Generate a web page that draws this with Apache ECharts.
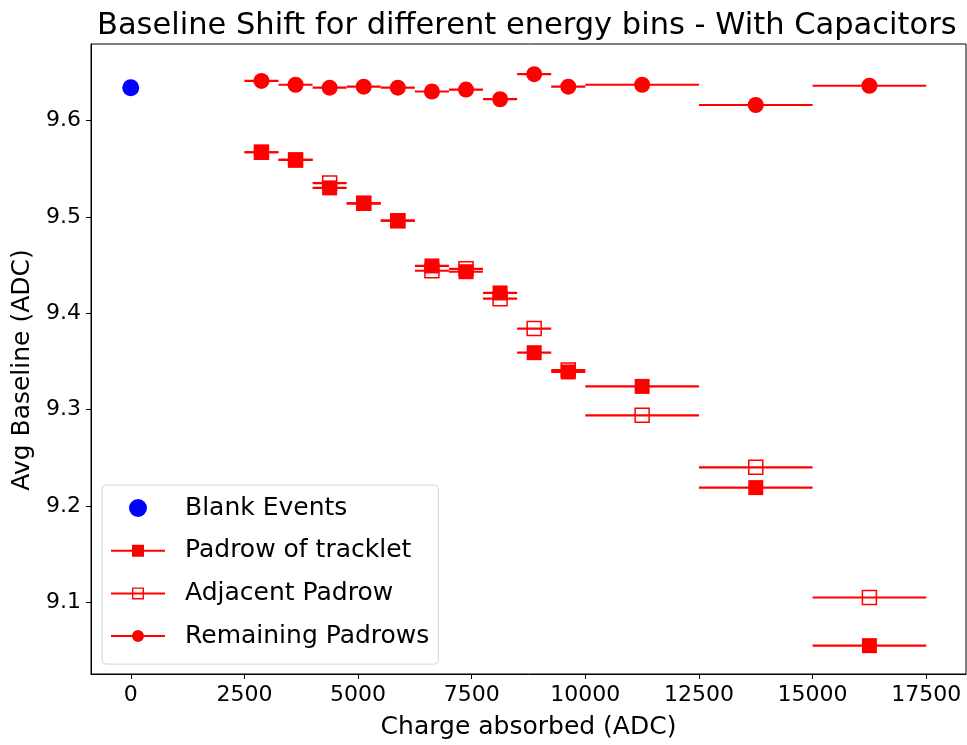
<!DOCTYPE html>
<html>
<head>
<meta charset="utf-8">
<script src="https://cdn.jsdelivr.net/npm/echarts@6/dist/echarts.min.js"></script>
<style>
  html, body { margin: 0; padding: 0; background: #fff; }
  #chart { width: 967px; height: 745px; }
</style>
</head>
<body>
<div id="chart"></div>
<script>
// Energy bins (charge absorbed, ADC): lower edge, upper edge, centre
const binLow    = [2500, 3250, 4000, 4750, 5500, 6250, 7000, 7750, 8500, 9250, 10000, 12500, 15000];
const binHigh   = [3250, 4000, 4750, 5500, 6250, 7000, 7750, 8500, 9250, 10000, 12500, 15000, 17500];
const binCenter = [2875, 3625, 4375, 5125, 5875, 6625, 7375, 8125, 8875, 9625, 11250, 13750, 16250];

// Average baseline (ADC) per bin
const padrowTracklet = [9.567, 9.559, 9.530, 9.514, 9.496, 9.449, 9.443, 9.421, 9.359, 9.339, 9.324, 9.219, 9.055];
const padrowAdjacent = [9.567, 9.559, 9.535, 9.514, 9.496, 9.444, 9.446, 9.415, 9.384, 9.341, 9.294, 9.240, 9.105];
const padrowRemaining = [9.641, 9.637, 9.634, 9.635, 9.634, 9.630, 9.632, 9.622, 9.648, 9.635, 9.637, 9.616, 9.636];

// Blank events (no charge)
const blankX = [0];
const blankY = [9.634];

// Tick positions
const xTicks = [0, 2500, 5000, 7500, 10000, 12500, 15000, 17500];
const yTicks = [9.1, 9.2, 9.3, 9.4, 9.5, 9.6];

const FONT = 'DejaVu Sans';
const RED = '#ff0000';

function errorRows(values) {
  return binCenter.map((c, i) => [c, binLow[i], binHigh[i], values[i]]);
}
function pointRows(values) {
  return binCenter.map((c, i) => [c, values[i]]);
}

// horizontal error bar spanning the bin
function renderErrorBar(params, api) {
  const y = api.value(3);
  const p0 = api.coord([api.value(1), y]);
  const p1 = api.coord([api.value(2), y]);
  return {
    type: 'line',
    shape: { x1: p0[0], y1: p0[1], x2: p1[0], y2: p1[1] },
    style: { stroke: RED, lineWidth: 2.2 }
  };
}

function errorSeries(name, values) {
  return {
    name: name,
    type: 'custom',
    renderItem: renderErrorBar,
    encode: { x: [1, 2], y: 3 },
    data: errorRows(values),
    silent: true
  };
}

// legend icons: line with marker
const ICON_SQUARE = 'path://M0,0M54,18M0,8H21V3H33V8H54V10H33V15H21V10H0Z';
const ICON_OPEN = 'path://M0,0M54,18M0,8H54V10H0ZM21,3H33V15H21ZM22.4,4.4V13.6H31.6V4.4Z';
const ICON_DOT = 'path://M0,0M54,18M0,8H54V10H0ZM21,9A6,6 0 1,1 33,9A6,6 0 1,1 21,9Z';

const chart = echarts.init(document.getElementById('chart'), null, { renderer: 'canvas' });

chart.setOption({
  animation: false,
  backgroundColor: '#fff',
  textStyle: { fontFamily: FONT },
  title: {
    text: 'Baseline Shift for different energy bins - With Capacitors',
    left: 92,
    top: 6,
    textStyle: { fontFamily: FONT, fontSize: 30.5, fontWeight: 'normal', color: '#000' }
  },
  grid: {
    left: 91, right: 1, top: 44, bottom: 69,
    show: true, borderColor: '#000', borderWidth: 1, backgroundColor: 'transparent'
  },
  legend: {
    orient: 'vertical',
    left: 102,
    top: 485,
    itemWidth: 54,
    itemHeight: 18,
    itemGap: 16.7,
    padding: [10, 9, 15, 9],
    backgroundColor: 'rgba(255,255,255,0.8)',
    borderColor: '#d6d6d6',
    borderWidth: 1,
    borderRadius: 4,
    selectedMode: false,
    textStyle: { fontFamily: FONT, fontSize: 25, color: '#000', lineHeight: 26, padding: [0, 0, 0, 15] },
    data: [
      { name: 'Blank Events', icon: 'circle', itemStyle: { color: '#0000ff' } },
      { name: 'Padrow of tracklet', icon: ICON_SQUARE, itemStyle: { color: RED, borderWidth: 0 } },
      { name: 'Adjacent Padrow', icon: ICON_OPEN, itemStyle: { color: RED, borderWidth: 0 } },
      { name: 'Remaining Padrows', icon: ICON_DOT, itemStyle: { color: RED, borderWidth: 0 } }
    ]
  },
  xAxis: {
    type: 'value',
    min: -875,
    max: 18375,
    name: 'Charge absorbed (ADC)',
    nameLocation: 'middle',
    nameGap: 41,
    nameTextStyle: { fontFamily: FONT, fontSize: 25, color: '#000' },
    splitLine: { show: false },
    axisLine: { show: true, onZero: false, lineStyle: { color: '#000', width: 1 } },
    axisTick: { show: true, length: 5, lineStyle: { color: '#000' }, customValues: xTicks },
    axisLabel: {
      fontFamily: FONT, fontSize: 22, color: '#000', margin: 10, customValues: xTicks,
      formatter: v => String(v)
    }
  },
  yAxis: {
    type: 'value',
    min: 9.0256,
    max: 9.6793,
    name: 'Avg Baseline (ADC)',
    nameLocation: 'middle',
    nameGap: 50,
    nameRotate: 90,
    nameTextStyle: { fontFamily: FONT, fontSize: 25, color: '#000', padding: [0, 22, 0, 0] },
    splitLine: { show: false },
    axisLine: { show: true, onZero: false, lineStyle: { color: '#000', width: 1 } },
    axisTick: { show: true, length: 5, lineStyle: { color: '#000' }, customValues: yTicks },
    axisLabel: {
      fontFamily: FONT, fontSize: 22, color: '#000', margin: 10, customValues: yTicks,
      formatter: v => v.toFixed(1)
    }
  },
  series: [
    {
      name: 'Blank Events',
      type: 'scatter',
      symbol: 'circle',
      symbolSize: 17,
      itemStyle: { color: '#0000ff', opacity: 1 },
      data: blankX.map((x, i) => [x, blankY[i]])
    },
    errorSeries('Padrow of tracklet', padrowTracklet),
    {
      name: 'Padrow of tracklet',
      type: 'scatter',
      symbol: 'rect',
      symbolSize: 15,
      itemStyle: { color: RED, opacity: 1 },
      data: pointRows(padrowTracklet)
    },
    errorSeries('Adjacent Padrow', padrowAdjacent),
    {
      name: 'Adjacent Padrow',
      type: 'scatter',
      symbol: 'rect',
      symbolSize: 14,
      itemStyle: { color: 'rgba(255,255,255,0)', borderColor: RED, borderWidth: 1.5, opacity: 1 },
      data: pointRows(padrowAdjacent)
    },
    errorSeries('Remaining Padrows', padrowRemaining),
    {
      name: 'Remaining Padrows',
      type: 'scatter',
      symbol: 'circle',
      symbolSize: 16,
      itemStyle: { color: RED, opacity: 1 },
      data: pointRows(padrowRemaining)
    }
  ]
});
</script>
</body>
</html>
